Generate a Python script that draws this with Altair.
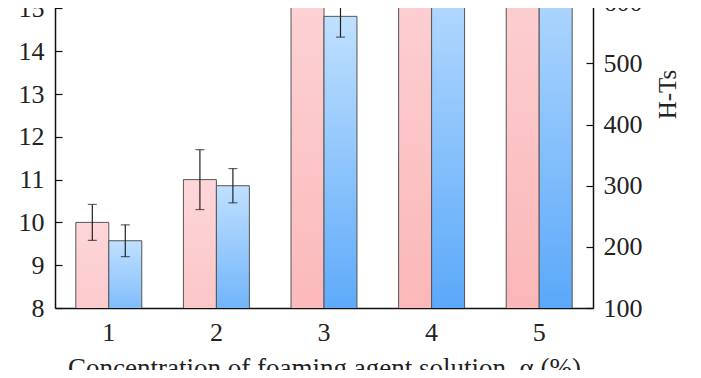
import altair as alt
import pandas as pd

categories = ["1", "2", "3", "4", "5"]
red_values = [10.0, 11.0, 16.2, 17.3, 17.6]
red_errors = [0.42, 0.7, 0.6, 0.5, 0.5]
blue_values = [210, 300, 577, 690, 720]
blue_errors = [26, 28, 34, 30, 30]

left_ticks = [8, 9, 10, 11, 12, 13, 14, 15, 16, 17, 18]
right_ticks = [100, 200, 300, 400, 500, 600, 700, 800]

red_df = pd.DataFrame({
    "cat": categories, "series": "red", "value": red_values,
    "lo": [v - e for v, e in zip(red_values, red_errors)],
    "hi": [v + e for v, e in zip(red_values, red_errors)],
})
blue_df = pd.DataFrame({
    "cat": categories, "series": "blue", "value": blue_values,
    "lo": [v - e for v, e in zip(blue_values, blue_errors)],
    "hi": [v + e for v, e in zip(blue_values, blue_errors)],
})

FONT = "Liberation Serif"

x_enc = alt.X("cat:N", sort=categories,
              scale=alt.Scale(paddingInner=0.387, paddingOuter=0.1935),
              axis=alt.Axis(orient="bottom", ticks=False, labelAngle=0, labelFontSize=26,
                            labelPadding=11, labelColor="#222", domainColor="#111", domainWidth=1.5,
                            title="Concentration of foaming agent solution, α (%)",
                            titleFontSize=27, titleFontWeight="normal", titleColor="#222",
                            titlePadding=10))
xo_enc = alt.XOffset("series:N", scale=alt.Scale(domain=["red", "blue"], paddingInner=0, paddingOuter=0))

left_scale = alt.Scale(domain=[8, 18], nice=False, zero=False)
right_scale = alt.Scale(domain=[100, 800], nice=False, zero=False)

left_axis = alt.Axis(orient="left", values=left_ticks, ticks=False, labelFontSize=26, labelPadding=11,
                     labelColor="#222", domainColor="#111", domainWidth=1.5, grid=False, title=None)
right_axis = alt.Axis(orient="right", values=right_ticks, ticks=False, labelFontSize=26, labelPadding=10,
                      labelColor="#222", domainColor="#111", domainWidth=1.5, grid=False,
                      title="H-Ts", titleAngle=270, titleFontSize=25, titleFontWeight="normal",
                      titleColor="#222", titlePadding=38)
left_tick_axis = alt.Axis(orient="left", values=left_ticks, offset=-7, domain=False, labels=False,
                          ticks=True, tickSize=7, tickColor="#111", tickWidth=1.2, grid=False, title=None)
right_tick_axis = alt.Axis(orient="right", values=right_ticks, offset=-7, domain=False, labels=False,
                           ticks=True, tickSize=7, tickColor="#111", tickWidth=1.2, grid=False, title=None)

red_grad = alt.Gradient(gradient="linear", x1=0, x2=0, y1=0, y2=1,
                        stops=[alt.GradientStop(color="#fdd6d9", offset=0),
                               alt.GradientStop(color="#f99d9d", offset=1)])
blue_grad = alt.Gradient(gradient="linear", x1=0, x2=0, y1=0, y2=1,
                         stops=[alt.GradientStop(color="#c0e0ff", offset=0),
                                alt.GradientStop(color="#4a9ff8", offset=1)])


def bars(df, scale, axis, grad):
    return alt.Chart(df).mark_bar(fill=grad, stroke="#555", strokeWidth=1, clip=True).encode(
        x=x_enc, xOffset=xo_enc, y=alt.Y("value:Q", scale=scale, axis=axis))


def ghost(df, scale, axis):
    return alt.Chart(df).mark_bar(opacity=0, clip=True).encode(
        x=x_enc, xOffset=xo_enc, y=alt.Y("value:Q", scale=scale, axis=axis))


def errs(df, scale):
    rule = alt.Chart(df).mark_rule(color="#222", strokeWidth=1.2, clip=True).encode(
        x=x_enc, xOffset=xo_enc, y=alt.Y("lo:Q", scale=scale, axis=None), y2="hi:Q")
    cap_hi = alt.Chart(df).mark_tick(color="#222", size=9, thickness=1.2, clip=True).encode(
        x=x_enc, xOffset=xo_enc, y=alt.Y("hi:Q", scale=scale, axis=None))
    cap_lo = alt.Chart(df).mark_tick(color="#222", size=9, thickness=1.2, clip=True).encode(
        x=x_enc, xOffset=xo_enc, y=alt.Y("lo:Q", scale=scale, axis=None))
    return [rule, cap_hi, cap_lo]


layers = [
    bars(red_df, left_scale, left_axis, red_grad),
    bars(blue_df, right_scale, right_axis, blue_grad),
    ghost(red_df, left_scale, left_tick_axis),
    ghost(blue_df, right_scale, right_tick_axis),
] + errs(red_df, left_scale) + errs(blue_df, right_scale)

chart = alt.layer(*layers).resolve_scale(y="independent").properties(
    width=538, height=428,
    autosize=alt.AutoSizeParams(type="none"),
    padding={"left": 47, "top": -128, "right": 100, "bottom": 62},
).configure(font=FONT).configure_view(stroke=None)

chart.save("out.html", embed_options={"renderer": "svg", "actions": False})
